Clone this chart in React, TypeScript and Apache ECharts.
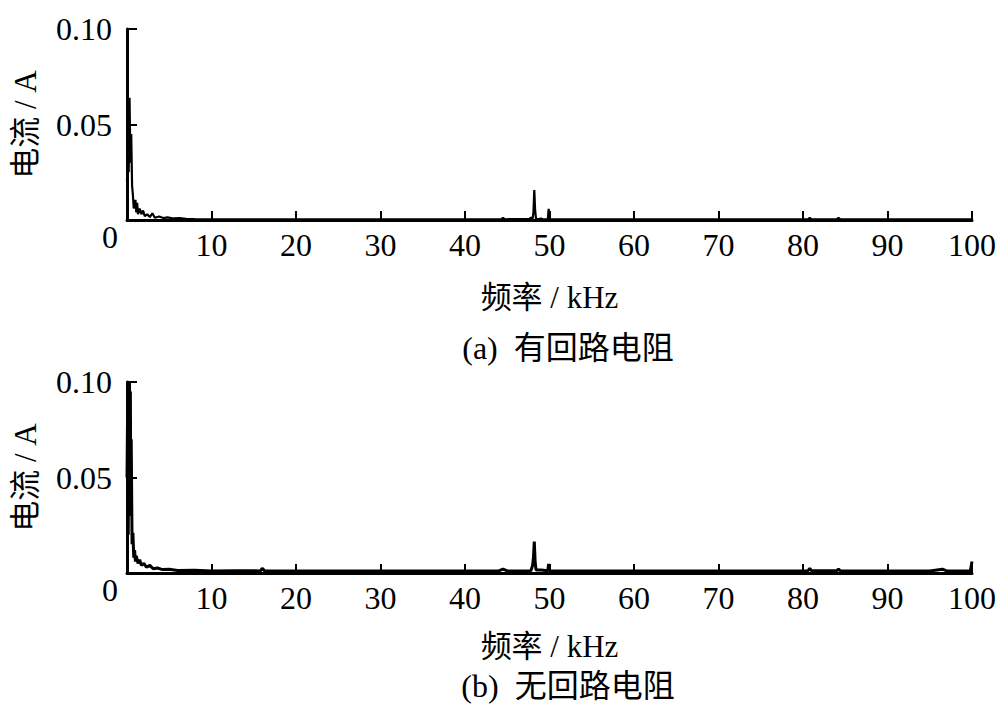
import React, { useEffect, useRef } from "react";
import * as echarts from "echarts";

// Chart (a): with loop resistance — frequency (kHz) and current (A)
const freqA = [0, 0.1, 0.2, 0.3, 0.4, 0.5, 0.6, 0.7, 0.8, 0.9, 1.0, 1.1, 1.2, 1.3, 1.5, 1.7, 1.9, 2.1, 2.4, 2.7, 3.0, 3.3, 3.8, 4.3, 4.8, 5.5, 6.2, 7, 8, 10, 15, 20, 25, 30, 35, 40, 44.3, 44.5, 44.7, 47.6, 47.8, 48.0, 48.1, 48.2, 48.3, 48.4, 48.6, 49.0, 49.2, 49.8, 49.9, 50.0, 55, 60, 65, 70, 75, 80.6, 80.8, 81, 84, 84.2, 84.4, 90, 95, 100];
const ampA = [0.02, 0.04, 0.025, 0.064, 0.03, 0.045, 0.018, 0.013, 0.006, 0.008, 0.0105, 0.004, 0.009, 0.003, 0.006, 0.003, 0.005, 0.002, 0.003, 0.0015, 0.0035, 0.0012, 0.0018, 0.001, 0.0014, 0.0008, 0.001, 0.0006, 0.0005, 0.0004, 0.0004, 0.0003, 0.0004, 0.0003, 0.0003, 0.0004, 0.0004, 0.0012, 0.0004, 0.0005, 0.0012, 0.0006, 0.004, 0.0157, 0.005, 0.0008, 0.0004, 0.0008, 0.0004, 0.0004, 0.0058, 0.0004, 0.0003, 0.0003, 0.0003, 0.0003, 0.0003, 0.0004, 0.0012, 0.0004, 0.0004, 0.0012, 0.0004, 0.0003, 0.0003, 0.0003];

// Chart (b): without loop resistance
const freqB = [0, 0.1, 0.15, 0.2, 0.25, 0.3, 0.35, 0.4, 0.45, 0.5, 0.6, 0.7, 0.8, 0.9, 1.0, 1.1, 1.3, 1.5, 1.7, 2.0, 2.3, 2.7, 3.1, 3.6, 4.2, 5, 6, 8, 10, 13, 15.8, 16, 16.3, 20, 25, 30, 35, 40, 44, 44.5, 45, 47.8, 48.0, 48.1, 48.2, 48.3, 48.4, 49.0, 49.8, 49.9, 50.0, 55, 60, 65, 70, 75, 80.6, 80.8, 81, 84, 84.2, 84.4, 90, 95, 96.5, 97, 99.8, 100];
const ampB = [0.05, 0.1, 0.02, 0.098, 0.03, 0.1, 0.04, 0.095, 0.03, 0.07, 0.015, 0.021, 0.008, 0.012, 0.006, 0.009, 0.005, 0.007, 0.004, 0.005, 0.003, 0.004, 0.0022, 0.0026, 0.0018, 0.002, 0.0013, 0.0014, 0.001, 0.0012, 0.0011, 0.0024, 0.0011, 0.001, 0.0011, 0.001, 0.0011, 0.001, 0.0011, 0.002, 0.0011, 0.0012, 0.004, 0.008, 0.0164, 0.006, 0.0016, 0.0016, 0.0012, 0.0047, 0.0012, 0.0011, 0.001, 0.0011, 0.001, 0.0011, 0.0012, 0.0024, 0.0012, 0.0012, 0.002, 0.0012, 0.0011, 0.0011, 0.002, 0.0011, 0.0011, 0.006];

const xTicks = { min: 0, max: 100, interval: 10 };
const yTicks = { min: 0, max: 0.1, interval: 0.05 };
const xName = "频率 / kHz";
const yName = "电流 / A";
const captions = ["(a)  有回路电阻", "(b)  无回路电阻"];

const FONT = "'Liberation Serif', 'Times New Roman', 'Noto Sans CJK SC', serif";
const FS = 32;

export default function App() {
  const ref = useRef<HTMLDivElement>(null);
  useEffect(() => {
    document.body.style.margin = "0";
    const chart = echarts.init(ref.current!, null, { renderer: "svg" });
    const grids = [
      { left: 127, top: 29, width: 845, height: 191 },
      { left: 127, top: 382, width: 845, height: 191 },
    ];
    const nameGaps = [62, 58];
    const mkX = (i: number) => ({
      type: "value",
      gridIndex: i,
      ...xTicks,
      name: xName,
      nameLocation: "middle",
      nameGap: nameGaps[i],
      nameTextStyle: { fontFamily: FONT, fontSize: FS - 1, color: "#000" },
      axisLine: { show: true, onZero: false, lineStyle: { color: "#000", width: 3 } },
      axisTick: { show: true, inside: true, length: 9, lineStyle: { color: "#000", width: 2 } },
      axisLabel: { showMinLabel: false, margin: 9, fontFamily: FONT, fontSize: FS, color: "#000" },
      splitLine: { show: false },
    });
    const mkY = (i: number) => ({
      type: "value",
      gridIndex: i,
      ...yTicks,
      name: yName,
      nameLocation: "middle",
      nameRotate: 90,
      nameGap: 86,
      nameTextStyle: { fontFamily: FONT, fontSize: FS - 1, color: "#000" },
      axisLine: { show: true, lineStyle: { color: "#000", width: 3 } },
      axisTick: { show: true, inside: true, length: 10, lineStyle: { color: "#000", width: 2 } },
      axisLabel: {
        margin: 9,
        fontFamily: FONT,
        fontSize: FS,
        color: "#000",
        formatter: (v: number) => (v === 0 ? "{z|0}" : "{n|" + v.toFixed(2) + "}"),
        rich: {
          z: { fontFamily: FONT, fontSize: FS, color: "#000", padding: [34, 0, 0, 0] },
          n: { fontFamily: FONT, fontSize: FS, color: "#000", padding: [0, 6, 0, 0] },
        },
      },
      splitLine: { show: false },
    });
    const zip = (f: number[], a: number[]) => f.map((x, k) => [x, a[k]]);
    chart.setOption({
      animation: false,
      backgroundColor: "#fff",
      grid: grids,
      xAxis: [mkX(0), mkX(1)],
      yAxis: [mkY(0), mkY(1)],
      series: [
        {
          type: "line",
          xAxisIndex: 0,
          yAxisIndex: 0,
          data: zip(freqA, ampA),
          symbol: "none",
          lineStyle: { color: "#000", width: 2.2 },
        },
        {
          type: "line",
          xAxisIndex: 1,
          yAxisIndex: 1,
          data: zip(freqB, ampB),
          symbol: "none",
          lineStyle: { color: "#000", width: 3 },
        },
      ],
      graphic: [
        {
          type: "text",
          x: 568,
          y: 348,
          style: { text: captions[0], fontFamily: FONT, fontSize: FS, fill: "#000", textAlign: "center", textVerticalAlign: "middle" },
        },
        {
          type: "text",
          x: 568,
          y: 686,
          style: { text: captions[1], fontFamily: FONT, fontSize: FS, fill: "#000", textAlign: "center", textVerticalAlign: "middle" },
        },
      ],
    });
    return () => chart.dispose();
  }, []);
  return <div ref={ref} style={{ width: 1000, height: 721 }} />;
}
